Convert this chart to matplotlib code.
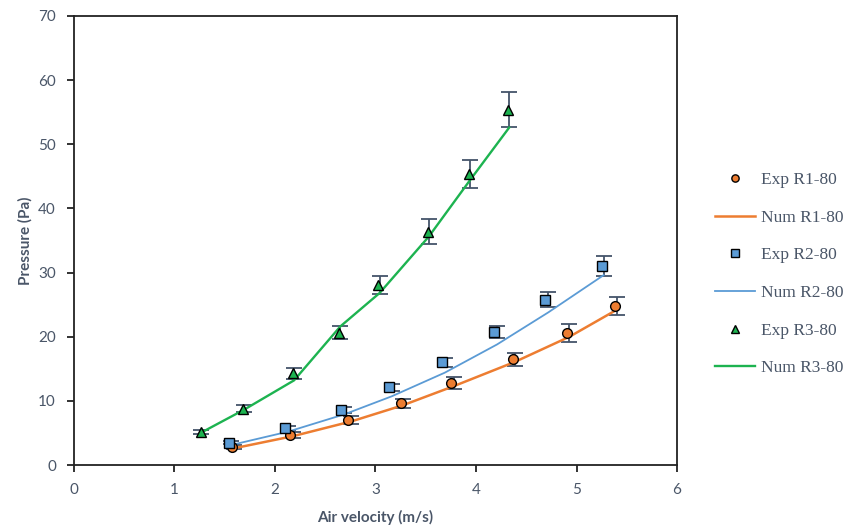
import matplotlib
matplotlib.use("Agg")
import matplotlib.pyplot as plt

# experimental points
exp_r1_x = [1.57, 2.15, 2.73, 3.25, 3.75, 4.37, 4.91, 5.38]
exp_r1_y = [2.8, 4.7, 7.0, 9.6, 12.8, 16.5, 20.6, 24.8]
exp_r1_err = [0.3, 0.5, 0.6, 0.7, 0.9, 1.0, 1.4, 1.4]

exp_r2_x = [1.54, 2.10, 2.66, 3.13, 3.66, 4.18, 4.69, 5.25]
exp_r2_y = [3.5, 5.7, 8.6, 12.1, 16.0, 20.7, 25.8, 31.0]
exp_r2_err = [0.3, 0.4, 0.5, 0.6, 0.7, 0.9, 1.2, 1.6]

exp_r3_x = [1.26, 1.68, 2.18, 2.64, 3.03, 3.52, 3.93, 4.32]
exp_r3_y = [5.1, 8.8, 14.3, 20.6, 28.0, 36.4, 45.4, 55.4]
exp_r3_err = [0.3, 0.5, 0.9, 1.0, 1.4, 2.0, 2.2, 2.7]

# numerical results
num_r1_x = [1.59, 2.18, 2.76, 3.27, 3.78, 4.39, 4.93, 5.40]
num_r1_y = [2.6, 4.5, 6.8, 9.3, 12.3, 16.1, 20.0, 24.2]

num_r2_x = [1.56, 2.13, 2.69, 3.16, 3.69, 4.21, 4.72, 5.27]
num_r2_y = [3.1, 5.2, 7.9, 10.7, 14.4, 18.8, 23.8, 29.6]

num_r3_x = [1.26, 1.69, 2.19, 2.65, 3.04, 3.53, 3.94, 4.33]
num_r3_y = [5.0, 8.6, 13.2, 21.6, 26.8, 35.6, 44.4, 52.6]

orange = "#ED7D31"
blue = "#5B9BD5"
green = "#1DB350"
err_col = "#44546A"
txt_col = "#4A5668"

fig = plt.figure(figsize=(8.56, 5.28), dpi=100)
ax = fig.add_axes([0.0864, 0.1193, 0.7045, 0.8504])

series = [
    (exp_r1_x, exp_r1_y, exp_r1_err, num_r1_x, num_r1_y, orange, "o", "R1-80", 1.8),
    (exp_r2_x, exp_r2_y, exp_r2_err, num_r2_x, num_r2_y, blue, "s", "R2-80", 1.3),
    (exp_r3_x, exp_r3_y, exp_r3_err, num_r3_x, num_r3_y, green, "^", "R3-80", 1.7),
]

handles = []
for ex, ey, ee, nx, ny, col, mk, name, lw in series:
    ax.errorbar(nx, ey, yerr=ee, fmt="none", ecolor=err_col, elinewidth=1.3,
                capsize=5.5, capthick=1.3, zorder=2)
    line, = ax.plot(nx, ny, color=col, lw=lw, zorder=3, label="Num " + name)
    pts, = ax.plot(ex, ey, linestyle="none", marker=mk, markersize=7,
                   markerfacecolor=col, markeredgecolor="black",
                   markeredgewidth=1.0, zorder=4, label="Exp " + name)
    handles += [pts, line]

ax.set_xlim(0, 6)
ax.set_ylim(0, 70)
ax.set_xticks(range(0, 7))
ax.set_yticks(range(0, 71, 10))
for s in ax.spines.values():
    s.set_color("#222222")
    s.set_linewidth(1.3)
ax.tick_params(direction="out", length=5, width=1.3, color="#222222",
               labelcolor=txt_col, labelsize=11, pad=8)
for lab in ax.get_xticklabels() + ax.get_yticklabels():
    lab.set_family("Lato")

ax.set_xlabel("Air velocity (m/s)", fontsize=11, fontweight="bold",
              color=txt_col, family="Lato", labelpad=9)
ax.set_ylabel("Pressure (Pa)", fontsize=11, fontweight="bold",
              color=txt_col, family="Lato", labelpad=4)

fig.legend(handles=handles, loc="center left", bbox_to_anchor=(0.8175, 0.481),
           frameon=False, handlelength=2.3, handletextpad=0.3, labelspacing=1.24,
           markerscale=0.75,
           prop={"family": "Liberation Serif", "size": 12.5}, labelcolor=txt_col)

fig.savefig("out.png", dpi=100)
